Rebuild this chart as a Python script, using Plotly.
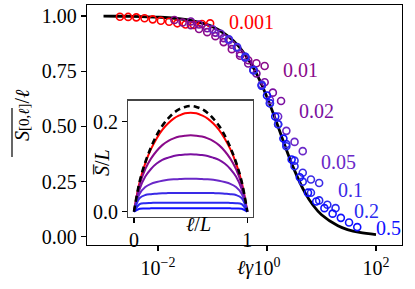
import math
import plotly.graph_objects as go

# ---------------- data ----------------
gammas = [0.001, 0.01, 0.02, 0.05, 0.1, 0.2, 0.5]
gamma_labels = ["0.001", "0.01", "0.02", "0.05", "0.1", "0.2", "0.5"]
series_colors = ["#ff0000", "#8a0a8a", "#7a0fa0", "#6a28c8", "#3a2ae6", "#2a2af0", "#1010ff"]

ell = [2, 2.83, 4, 5.66, 8, 11.3, 16, 22.6, 32, 45.3, 64, 90.5]

S_over_ell = {
    0.001: [0.997, 0.996, 0.994, 0.990, 0.985, 0.979, 0.974, 0.967, 0.962, 0.960, 0.964, 0.967],
    0.01:  [0.982, 0.971, 0.959, 0.941, 0.927, 0.909, 0.882, 0.850, 0.820, 0.800, 0.786, 0.774],
    0.02:  [0.975, 0.962, 0.945, 0.925, 0.900, 0.870, 0.830, 0.785, 0.740, 0.700, 0.653, 0.615],
    0.05:  [0.940, 0.920, 0.890, 0.855, 0.810, 0.755, 0.690, 0.620, 0.545, 0.480, 0.430, 0.388],
    0.1:   [0.895, 0.860, 0.815, 0.755, 0.685, 0.605, 0.510, 0.420, 0.345, 0.290, 0.260, 0.244],
    0.2:   [0.815, 0.755, 0.685, 0.605, 0.510, 0.410, 0.320, 0.250, 0.200, 0.165, 0.145, 0.130],
    0.5:   [0.640, 0.545, 0.445, 0.350, 0.270, 0.200, 0.160, 0.130, 0.105, 0.086, 0.065, 0.044],
}
label_y = [0.974, 0.757, 0.570, 0.341, 0.214, 0.115, 0.038]

curve_x = [0.001, 0.002, 0.005, 0.01, 0.02, 0.05, 0.1, 0.2, 0.3, 0.5, 0.7, 1, 1.5, 2, 3,
           5, 7, 10, 20, 30, 50, 100]
curve_y = [0.9995, 0.999, 0.9975, 0.995, 0.990, 0.975, 0.952, 0.906, 0.864, 0.787, 0.720,
           0.632, 0.518, 0.432, 0.317, 0.199, 0.143, 0.100, 0.050, 0.033, 0.020, 0.010]

# inset: S/L vs l/L
u = [0, 0.05, 0.1, 0.15, 0.2, 0.25, 0.3, 0.35, 0.4, 0.45, 0.5,
     0.55, 0.6, 0.65, 0.7, 0.75, 0.8, 0.85, 0.9, 0.95, 1]
inset_dashed = [0, 0.067, 0.110, 0.143, 0.170, 0.191, 0.207, 0.2195, 0.228, 0.233, 0.235,
                0.233, 0.228, 0.2195, 0.207, 0.191, 0.170, 0.143, 0.110, 0.067, 0]
inset_curves = {
    0.001: [0, 0.066, 0.108, 0.139, 0.163, 0.182, 0.196, 0.207, 0.214, 0.219, 0.220,
            0.219, 0.214, 0.207, 0.196, 0.182, 0.163, 0.139, 0.108, 0.066, 0],
    0.01:  [0, 0.060, 0.095, 0.118, 0.135, 0.148, 0.157, 0.163, 0.167, 0.169, 0.170,
            0.169, 0.167, 0.163, 0.157, 0.148, 0.135, 0.118, 0.095, 0.060, 0],
    0.02:  [0, 0.050, 0.078, 0.095, 0.107, 0.115, 0.120, 0.124, 0.126, 0.127, 0.128,
            0.127, 0.126, 0.124, 0.120, 0.115, 0.107, 0.095, 0.078, 0.050, 0],
    0.05:  [0, 0.040, 0.055, 0.062, 0.066, 0.069, 0.071, 0.072, 0.0725, 0.073, 0.073,
            0.073, 0.0725, 0.072, 0.071, 0.069, 0.066, 0.062, 0.055, 0.040, 0],
    0.1:   [0, 0.030, 0.037, 0.039, 0.040, 0.041, 0.0413, 0.0415, 0.0415, 0.0415, 0.0415,
            0.0415, 0.0415, 0.0415, 0.0413, 0.041, 0.040, 0.039, 0.037, 0.030, 0],
    0.2:   [0, 0.017, 0.019, 0.0195, 0.020, 0.020, 0.020, 0.020, 0.020, 0.020, 0.020,
            0.020, 0.020, 0.020, 0.020, 0.020, 0.020, 0.0195, 0.019, 0.017, 0],
    0.5:   [0, 0.0065, 0.0072, 0.0074, 0.0075, 0.0075, 0.0075, 0.0075, 0.0075, 0.0075, 0.0075,
            0.0075, 0.0075, 0.0075, 0.0075, 0.0075, 0.0075, 0.0074, 0.0072, 0.0065, 0],
}

# ---------------- layout helpers ----------------
W, H = 415, 289
ML, MR, MT, MB = 87, 13, 5, 44
PW, PH = W - ML - MR, H - MT - MB


def px(x):
    return (x - ML) / PW


def py(y):
    return (H - MB - y) / PH


FONT = "Liberation Serif"
fig = go.Figure()

fig.add_trace(go.Scatter(x=curve_x, y=curve_y, mode="lines",
                         line=dict(color="black", width=2.8, shape="spline"),
                         showlegend=False, xaxis="x", yaxis="y"))
for g, c in zip(gammas, series_colors):
    xs = [g * l for l in ell]
    fig.add_trace(go.Scatter(x=xs, y=S_over_ell[g], mode="markers",
                             marker=dict(symbol="circle-open", size=7, color=c,
                                         line=dict(width=1.6, color=c)),
                             showlegend=False, xaxis="x", yaxis="y"))

annotations = []
for g, lab, c, ly in zip(gammas, gamma_labels, series_colors, label_y):
    annotations.append(dict(x=math.log10(2 * g * ell[-1]), y=ly, xref="x", yref="y", text=lab,
                            showarrow=False, xanchor="left", yanchor="middle",
                            font=dict(family=FONT, size=20, color=c)))

for g, c in zip(gammas, series_colors):
    fig.add_trace(go.Scatter(x=u, y=inset_curves[g], mode="lines",
                             line=dict(color=c, width=2, shape="spline"),
                             showlegend=False, xaxis="x2", yaxis="y2"))
fig.add_trace(go.Scatter(x=u, y=inset_dashed, mode="lines",
                         line=dict(color="black", width=2.6, dash="6px,4px", shape="spline"),
                         showlegend=False, xaxis="x2", yaxis="y2"))

# titles
annotations.append(dict(x=px(22), y=py(115), xref="paper", yref="paper", textangle=-90,
                        xanchor="center", yanchor="middle",
                        text="<i>S</i><span style='font-size:15px'>[0,<i>ℓ</i>]</span>/<i>ℓ</i>",
                        showarrow=False, font=dict(family=FONT, size=20, color="black")))
annotations.append(dict(x=px(245), y=py(281), xref="paper", yref="paper", text="<i>ℓγ</i>",
                        showarrow=False, font=dict(family=FONT, size=20, color="black")))
annotations.append(dict(x=px(89), y=py(163), xref="paper", yref="paper", textangle=-90,
                        text="<i>S̅</i>/<i>L</i>", showarrow=False,
                        font=dict(family=FONT, size=20, color="black")))
annotations.append(dict(x=px(184), y=py(237), xref="paper", yref="paper", text="<i>ℓ</i>/<i>L</i>",
                        showarrow=False, font=dict(family=FONT, size=20, color="black")))

shapes = [dict(type="line", xref="paper", yref="paper", x0=px(12), x1=px(12), y0=py(108), y1=py(157),
               line=dict(color="black", width=1.2))]

axis_common = dict(showgrid=False, zeroline=False, showline=True, mirror=True, ticks="outside",
                   tickcolor="black", ticklen=5, tickwidth=1.2, automargin=False,
                   tickfont=dict(family=FONT, size=20, color="black"))

fig.update_layout(
    width=W, height=H,
    margin=dict(l=ML, r=MR, t=MT, b=MB, autoexpand=False),
    paper_bgcolor="white", plot_bgcolor="white",
    hovermode=False,
    xaxis=dict(type="log", range=[-3.303, 2.477], tickvals=[0.01, 1, 100],
               ticktext=["10<sup>−2</sup>", "10<sup>0</sup>", "10<sup>2</sup>"],
               linecolor="black", linewidth=1.3, **axis_common),
    yaxis=dict(range=[-0.037, 1.05], tickvals=[0, 0.25, 0.5, 0.75, 1.0],
               ticktext=["0.00", "0.25", "0.50", "0.75", "1.00"],
               linecolor="black", linewidth=1.3, **axis_common),
    xaxis2=dict(domain=[px(128.3), px(253)], anchor="y2", range=[-0.05, 1.05], tickvals=[0, 1],
                ticktext=["0", "1"], linecolor="#444", linewidth=1.3, **axis_common),
    yaxis2=dict(domain=[py(217), py(100.7)], anchor="x2", range=[-0.0118, 0.2468], tickvals=[0, 0.2],
                ticktext=["0.0", "0.2"], linecolor="#444", linewidth=1.3, **axis_common),
    annotations=annotations,
    shapes=shapes,
)

fig.write_html("out.html", config={"displayModeBar": False, "staticPlot": True},
               post_script="document.body.style.margin='0px';document.body.style.overflow='hidden';")
